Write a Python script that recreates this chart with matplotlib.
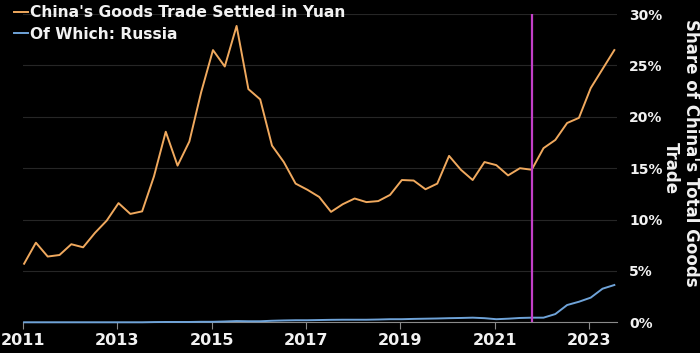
import matplotlib.pyplot as plt
import numpy as np

# quarterly readings, Q1 2011 .. Q3 2023 (share of China's goods trade, %)
start_year = 2011.03
yuan_share = [
    5.7, 7.75, 6.4, 6.55, 7.6, 7.3, 8.7, 9.9,
    11.6, 10.55, 10.8, 14.2, 18.55, 15.25, 17.6, 22.4,
    26.5, 24.9, 28.85, 22.7, 21.7, 17.2, 15.6, 13.5,
    12.9, 12.2, 10.75, 11.5, 12.05, 11.7, 11.8, 12.4,
    13.85, 13.8, 12.95, 13.5, 16.2, 14.85, 13.85, 15.6,
    15.3, 14.3, 15.0, 14.85, 16.95, 17.75, 19.4, 19.9,
    22.8, 24.65, 26.5,
]
russia_share = [
    0.0, 0.0, 0.0, 0.0, 0.0, 0.0, 0.0, 0.0,
    0.0, 0.0, 0.0, 0.02, 0.03, 0.03, 0.03, 0.05,
    0.05, 0.08, 0.12, 0.1, 0.1, 0.15, 0.18, 0.2,
    0.2, 0.22, 0.24, 0.25, 0.25, 0.25, 0.27, 0.3,
    0.3, 0.33, 0.35, 0.37, 0.4, 0.42, 0.45, 0.4,
    0.3, 0.35, 0.42, 0.45, 0.45, 0.8, 1.68, 2.0,
    2.4, 3.27, 3.63,
]
invasion_marker = 2021.79
year_ticks = [2011, 2013, 2015, 2017, 2019, 2021, 2023]
pct_ticks = [0, 5, 10, 15, 20, 25, 30]

ORANGE = "#f0a95e"
BLUE = "#6fa3d8"
MAGENTA = "#c23fc7"
GRID = "#262626"
TEXT = "#f2f2f2"

x = start_year + 0.25 * np.arange(len(yuan_share))

fig = plt.figure(figsize=(7.0, 3.53), dpi=100, facecolor="black")
ax = fig.add_axes([0.0324, 0.087, 0.8486, 0.873], facecolor="black")

ax.axvline(invasion_marker, color=MAGENTA, linewidth=1.6, zorder=4)
ax.plot(x, yuan_share, color=ORANGE, linewidth=1.4, label="China's Goods Trade Settled in Yuan",
        zorder=3, clip_on=False)
ax.plot(x, russia_share, color=BLUE, linewidth=1.4, label="Of Which: Russia", zorder=3, clip_on=False)

ax.set_xlim(2011, 2023.58)
ax.set_ylim(0, 30)

ax.set_xticks(year_ticks)
ax.set_xticklabels([str(y) for y in year_ticks])
ax.yaxis.tick_right()
ax.set_yticks(pct_ticks)
ax.set_yticklabels([f"{p}%" for p in pct_ticks])

ax.grid(axis="y", color=GRID, linewidth=0.8)
ax.set_axisbelow(True)
for side in ["top", "left", "right"]:
    ax.spines[side].set_visible(False)
ax.spines["bottom"].set_color("#8a8a8a")
ax.spines["bottom"].set_linewidth(0.8)

ax.tick_params(axis="x", colors="#8a8a8a", length=5, width=0.8, labelcolor=TEXT, labelsize=11.5, pad=3)
ax.tick_params(axis="y", length=0, labelcolor=TEXT, labelsize=10, pad=9)
for lab in ax.get_xticklabels() + ax.get_yticklabels():
    lab.set_fontweight("bold")

# right-hand axis title, laid out in two staggered lines as in the source
fig.text(0.987, 0.567, "Share of China's Total Goods", rotation=270, ha="center", va="center",
         color=TEXT, fontsize=12, fontweight="bold")
fig.text(0.959, 0.524, "Trade", rotation=270, ha="center", va="center",
         color=TEXT, fontsize=12, fontweight="bold")

leg = fig.legend(loc="upper left", bbox_to_anchor=(0.02, 0.985), frameon=False,
                 borderaxespad=0, borderpad=0,
                 handlelength=0.9, handletextpad=0.1, labelspacing=0.4,
                 prop={"weight": "bold", "size": 11.2})
for t in leg.get_texts():
    t.set_color(TEXT)

fig.savefig("out.png", dpi=100, facecolor="black")
